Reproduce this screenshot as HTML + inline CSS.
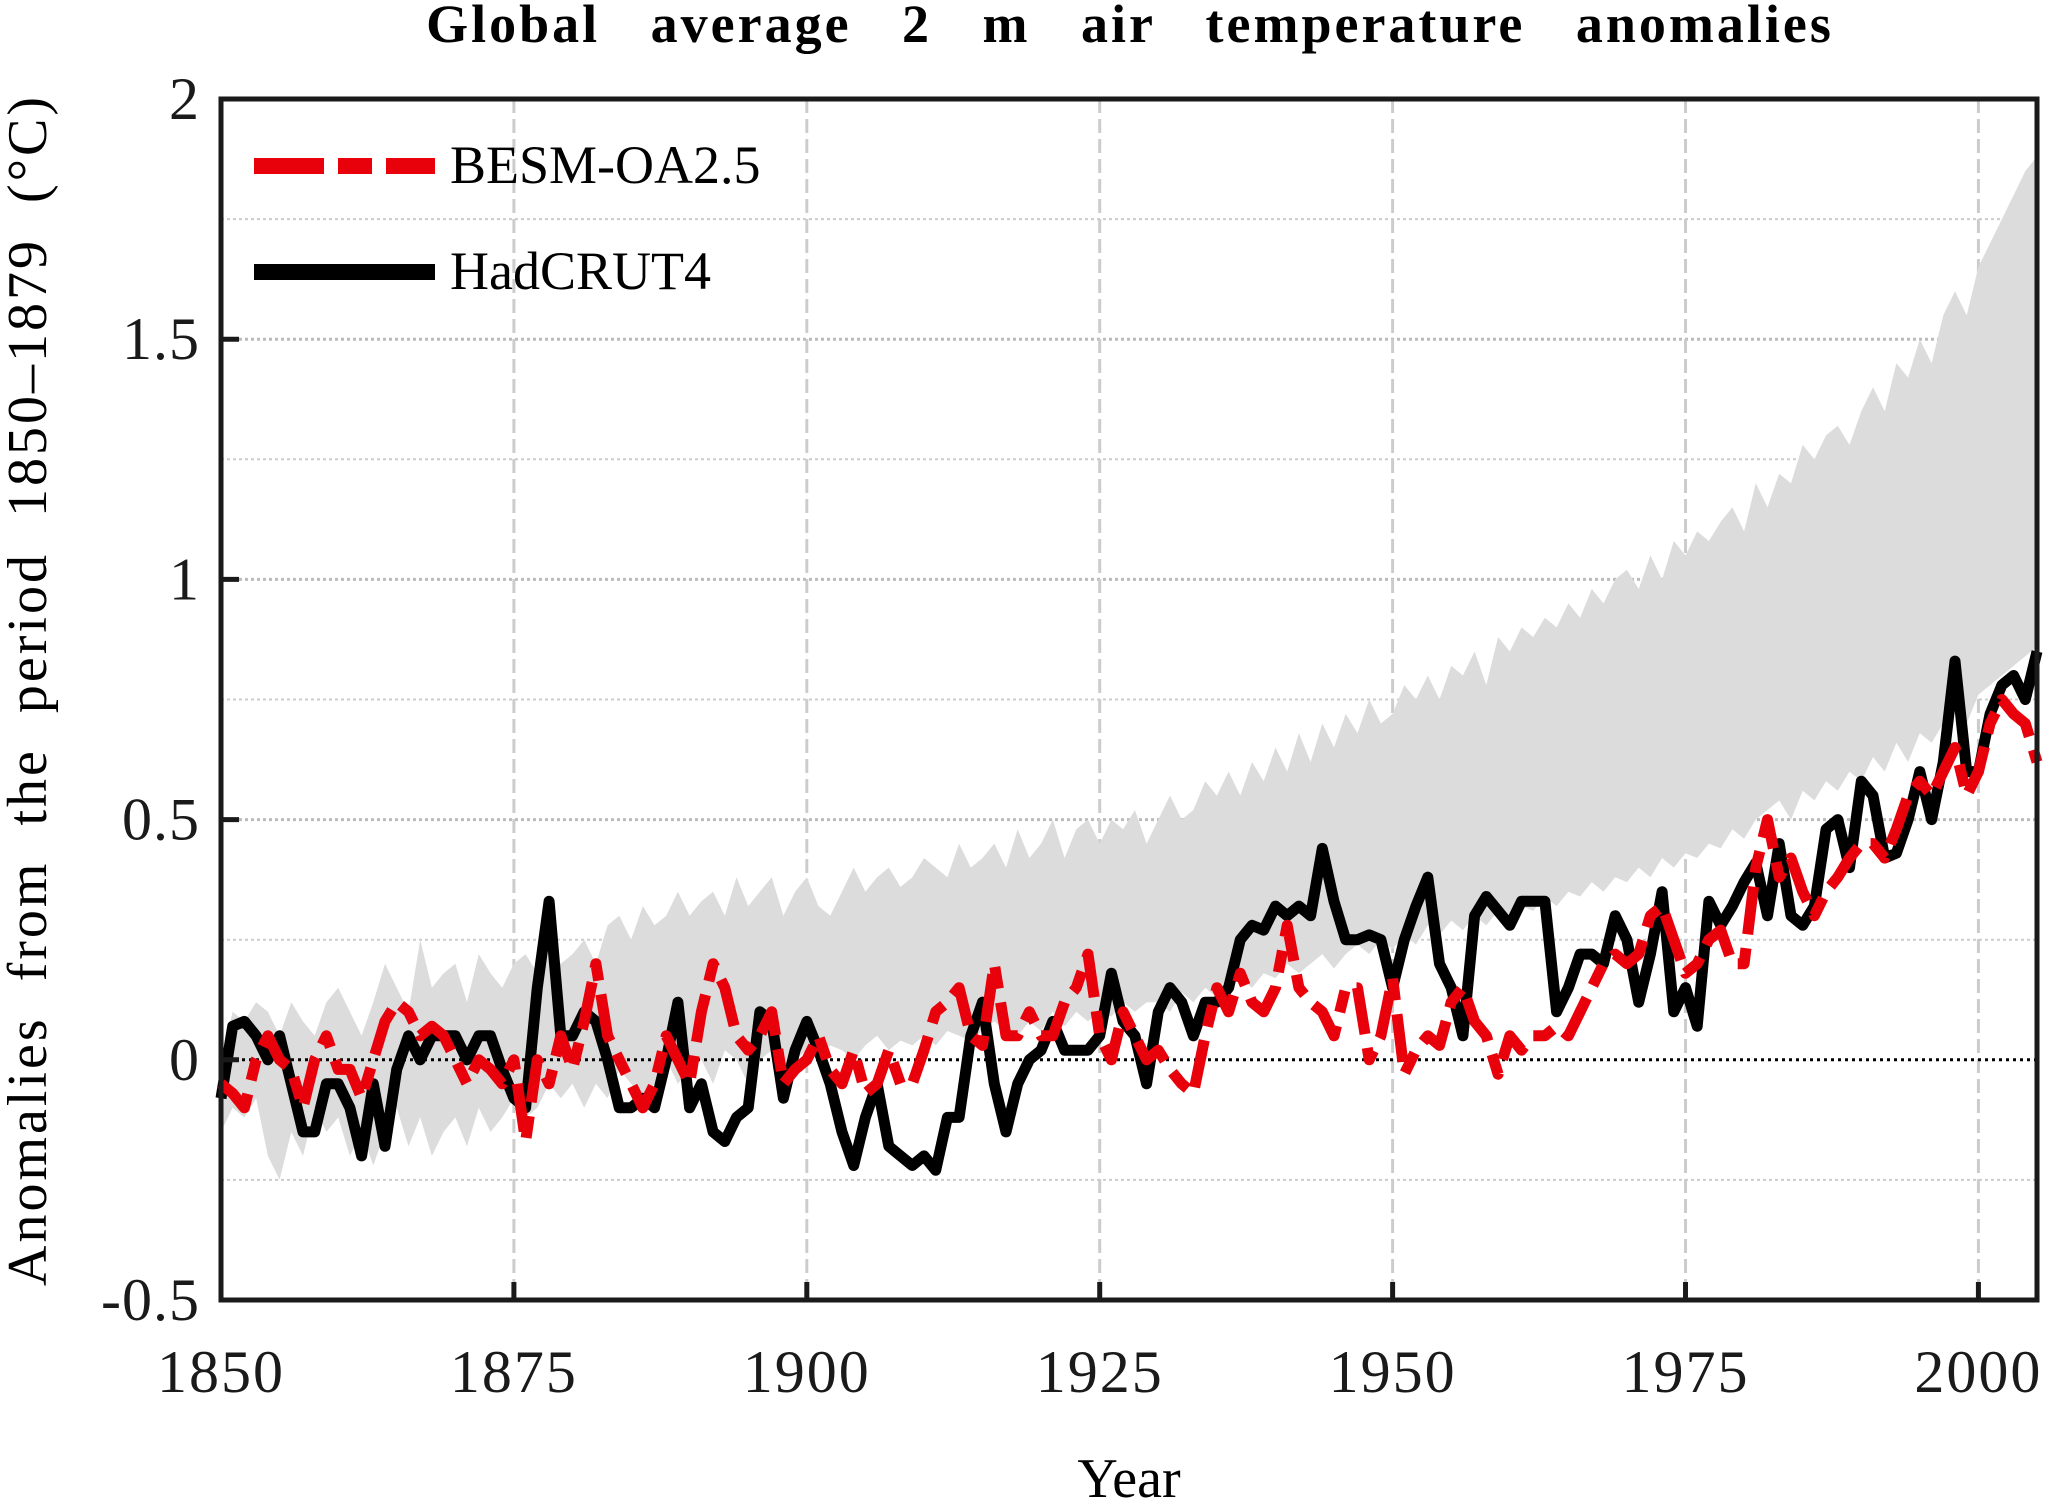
<!DOCTYPE html>
<html><head><meta charset="utf-8"><style>
html,body{margin:0;padding:0;background:#fff;}
svg{display:block;font-family:"Liberation Serif",serif;}
</style></head><body>
<svg id="chart" width="2067" height="1504" viewBox="0 0 2067 1504" xmlns="http://www.w3.org/2000/svg">
<text x="1130" y="42" text-anchor="middle" font-size="54" font-weight="bold" letter-spacing="3" word-spacing="34">Global average 2 m air temperature anomalies</text>
<text transform="translate(46,690) rotate(-90)" text-anchor="middle" font-size="56" letter-spacing="3" word-spacing="18">Anomalies from the period 1850–1879 (°C)</text>
<text x="1129" y="1497" text-anchor="middle" font-size="56">Year</text>
<g id="grid"></g>
<g id="band"></g>
<g id="lines"></g>
<g id="axes"></g>
<g id="legend">
<line x1="254" y1="166" x2="435" y2="166" stroke="#e8000b" stroke-width="16" stroke-dasharray="70,14,34,14"/>
<text x="450" y="183" font-size="54">BESM-OA2.5</text>
<line x1="254" y1="272" x2="435" y2="272" stroke="#000" stroke-width="16"/>
<text x="450" y="289" font-size="54">HadCRUT4</text>
</g>
</svg>
<script>
const startYear = 1850;
const hadcrut = [-0.08,0.07,0.08,0.05,0.0,0.05,-0.05,-0.15,-0.15,-0.05,
-0.05,-0.1,-0.2,-0.05,-0.18,-0.02,0.05,0.0,0.05,0.05,
0.05,0.0,0.05,0.05,-0.02,-0.08,-0.1,0.15,0.33,0.05,
0.05,0.1,0.08,0.0,-0.1,-0.1,-0.08,-0.1,0.0,0.12,
-0.1,-0.05,-0.15,-0.17,-0.12,-0.1,0.1,0.08,-0.08,0.02,
0.08,0.02,-0.05,-0.15,-0.22,-0.12,-0.05,-0.18,-0.2,-0.22,
-0.2,-0.23,-0.12,-0.12,0.05,0.12,-0.05,-0.15,-0.05,0.0,
0.02,0.08,0.02,0.02,0.02,0.05,0.18,0.08,0.05,-0.05,
0.1,0.15,0.12,0.05,0.12,0.12,0.15,0.25,0.28,0.27,
0.32,0.3,0.32,0.3,0.44,0.33,0.25,0.25,0.26,0.25,
0.15,0.25,0.32,0.38,0.2,0.15,0.05,0.3,0.34,0.31,
0.28,0.33,0.33,0.33,0.1,0.15,0.22,0.22,0.2,0.3,
0.25,0.12,0.22,0.35,0.1,0.15,0.07,0.33,0.28,0.32,
0.37,0.41,0.3,0.45,0.3,0.28,0.32,0.48,0.5,0.4,
0.58,0.55,0.42,0.43,0.5,0.6,0.5,0.62,0.83,0.6,
0.6,0.72,0.78,0.8,0.75,0.85];
const besm = [-0.05,-0.07,-0.1,0.0,0.05,0.0,-0.02,-0.1,0.0,0.05,
-0.02,-0.02,-0.08,0.0,0.08,0.12,0.1,0.05,0.07,0.05,
0.0,-0.05,0.0,-0.02,-0.05,0.0,-0.17,0.0,-0.05,0.05,
-0.02,0.08,0.2,0.05,0.0,-0.05,-0.1,-0.05,0.05,0.0,
-0.05,0.1,0.2,0.15,0.05,0.02,0.05,0.1,-0.05,-0.02,
0.0,0.05,-0.02,-0.05,0.02,-0.07,-0.05,0.02,-0.05,-0.05,
0.02,0.1,0.12,0.15,0.05,0.03,0.2,0.05,0.05,0.1,
0.05,0.05,0.12,0.15,0.22,0.05,0.0,0.1,0.05,0.0,
0.02,-0.02,-0.05,-0.07,0.05,0.15,0.1,0.18,0.12,0.1,
0.15,0.28,0.15,0.12,0.1,0.05,0.15,0.15,0.0,0.05,
0.17,-0.03,0.02,0.05,0.03,0.12,0.15,0.08,0.05,-0.03,
0.05,0.02,0.05,0.05,0.07,0.05,0.1,0.15,0.2,0.22,
0.2,0.22,0.3,0.32,0.25,0.18,0.2,0.25,0.27,0.2,
0.2,0.4,0.5,0.38,0.42,0.35,0.3,0.35,0.38,0.42,
0.45,0.45,0.42,0.48,0.55,0.58,0.55,0.6,0.65,0.55,
0.6,0.7,0.75,0.72,0.7,0.62];
const bandUpper = [0.0,0.1,0.08,0.12,0.1,0.05,0.12,0.08,0.05,0.12,
0.15,0.1,0.05,0.12,0.2,0.15,0.1,0.25,0.15,0.18,
0.2,0.12,0.22,0.18,0.15,0.2,0.22,0.18,0.25,0.2,
0.22,0.25,0.2,0.28,0.3,0.25,0.32,0.28,0.3,0.35,
0.3,0.33,0.35,0.3,0.38,0.32,0.35,0.38,0.3,0.35,
0.38,0.32,0.3,0.35,0.4,0.35,0.38,0.4,0.36,0.38,
0.42,0.4,0.38,0.45,0.4,0.42,0.45,0.4,0.48,0.42,
0.45,0.5,0.42,0.48,0.5,0.45,0.5,0.48,0.52,0.45,
0.5,0.55,0.5,0.52,0.58,0.55,0.6,0.55,0.62,0.58,
0.65,0.6,0.68,0.62,0.7,0.65,0.72,0.68,0.75,0.7,
0.72,0.78,0.75,0.8,0.75,0.82,0.8,0.85,0.78,0.88,
0.85,0.9,0.88,0.92,0.9,0.95,0.92,0.98,0.95,1.0,
1.02,0.98,1.05,1.0,1.08,1.05,1.1,1.08,1.12,1.15,
1.1,1.2,1.15,1.22,1.2,1.28,1.25,1.3,1.32,1.28,
1.35,1.4,1.35,1.45,1.42,1.5,1.45,1.55,1.6,1.55,
1.65,1.7,1.75,1.8,1.85,1.88];
const bandLower = [-0.15,-0.1,-0.12,-0.08,-0.2,-0.25,-0.15,-0.2,-0.1,-0.15,
-0.12,-0.2,-0.15,-0.22,-0.15,-0.1,-0.18,-0.12,-0.2,-0.15,
-0.12,-0.18,-0.1,-0.15,-0.12,-0.08,-0.12,-0.1,-0.05,-0.08,
-0.05,-0.1,-0.05,-0.08,-0.02,-0.05,-0.08,-0.05,0.0,-0.05,
-0.02,0.0,-0.05,0.02,0.0,-0.05,0.0,0.02,-0.03,0.0,
0.02,0.0,0.03,0.02,0.0,0.03,0.05,0.02,0.04,0.03,
0.05,0.03,0.06,0.05,0.04,0.06,0.08,0.06,0.05,0.08,
0.06,0.1,0.07,0.1,0.08,0.1,0.09,0.12,0.1,0.12,
0.12,0.1,0.14,0.12,0.15,0.13,0.15,0.17,0.15,0.18,
0.17,0.2,0.18,0.2,0.22,0.19,0.22,0.24,0.22,0.25,
0.23,0.26,0.24,0.28,0.26,0.29,0.27,0.3,0.28,0.31,
0.3,0.32,0.31,0.34,0.32,0.35,0.34,0.37,0.35,0.38,
0.37,0.4,0.38,0.42,0.4,0.43,0.42,0.45,0.44,0.48,
0.46,0.5,0.52,0.54,0.5,0.56,0.54,0.58,0.56,0.6,
0.58,0.63,0.6,0.66,0.62,0.68,0.66,0.7,0.75,0.7,
0.76,0.78,0.8,0.82,0.84,0.86];
const xTicks = [1850,1875,1900,1925,1950,1975,2000];
const yTicks = [-0.5,0,0.5,1,1.5,2];
const yTickLabels = ["-0.5","0","0.5","1","1.5","2"];
const yMinor = [-0.25,0.25,0.75,1.25,1.75];

const L=221,R=2037,T=99,B=1300,X0=1850,X1=2005,Y0=-0.5,Y1=2;
const sx=v=>L+(v-X0)/(X1-X0)*(R-L);
const sy=v=>B-(v-Y0)/(Y1-Y0)*(B-T);
const NS="http://www.w3.org/2000/svg";
function mk(tag,parent,attrs){const e=document.createElementNS(NS,tag);for(const k in attrs)e.setAttribute(k,attrs[k]);parent.appendChild(e);return e;}
const grid=document.getElementById('grid'),band=document.getElementById('band'),lines=document.getElementById('lines'),axes=document.getElementById('axes');

yTicks.forEach(v=>{if(v===0||v===Y1||v===Y0)return;
 const g=mk('line',grid,{x1:L,x2:R,y1:sy(v),y2:sy(v),stroke:'#bbb','stroke-width':3,'stroke-dasharray':'3,3'});
 
 });
yMinor.forEach(v=>{const g=mk('line',grid,{x1:L,x2:R,y1:sy(v),y2:sy(v),stroke:'#ccc','stroke-width':2,'stroke-dasharray':'3,3'});
 
 });
xTicks.forEach(v=>{if(v===X0)return;
 const g=mk('line',grid,{x1:sx(v),x2:sx(v),y1:T,y2:B,stroke:'#ccc','stroke-width':3,'stroke-dasharray':'14,6'});
 
 });

let d='';
bandUpper.forEach((v,i)=>{d+=(i?'L':'M')+sx(startYear+i).toFixed(1)+','+sy(v).toFixed(1);});
for(let i=bandLower.length-1;i>=0;i--)d+='L'+sx(startYear+i).toFixed(1)+','+sy(bandLower[i]).toFixed(1);
const bp=mk('path',band,{d:d+'Z',fill:'#dcdcdc'});



const zl=mk('line',lines,{x1:L,x2:R,y1:sy(0),y2:sy(0),stroke:'#000','stroke-width':3,'stroke-dasharray':'3,4'});



function series(arr,color,dash,name){
 const pts=arr.map((v,i)=>sx(startYear+i).toFixed(1)+','+sy(v).toFixed(1)).join(' ');
 const a={points:pts,fill:'none',stroke:color,'stroke-width':11,'stroke-linejoin':'round'};
 if(dash)a['stroke-dasharray']=dash;
 const p=mk('polyline',lines,a);
 
 
}
series(hadcrut,'#000',null,'hadcrut4-line');
series(besm,'#e8000b','48,14,22,14','besm-oa25-line');

const frame=mk('rect',axes,{x:L,y:T,width:R-L,height:B-T,fill:'none',stroke:'#1a1a1a','stroke-width':5});


xTicks.forEach(v=>{
 const t=mk('line',axes,{x1:sx(v),x2:sx(v),y1:B,y2:B-18,stroke:'#1a1a1a','stroke-width':5});
 
 
 const l=mk('text',axes,{x:sx(v),y:1392,'text-anchor':'middle','font-size':60,'letter-spacing':2,fill:'#1a1a1a'});
 l.textContent=v;
 
 
});
yTicks.forEach((v,i)=>{
 const t=mk('line',axes,{x1:L,x2:L+18,y1:sy(v),y2:sy(v),stroke:'#1a1a1a','stroke-width':5});
 
 
 const l=mk('text',axes,{x:200,y:sy(v)+20,'text-anchor':'end','font-size':60,'letter-spacing':1,fill:'#1a1a1a'});
 l.textContent=yTickLabels[i];
 
 
});
</script>
</body></html>
